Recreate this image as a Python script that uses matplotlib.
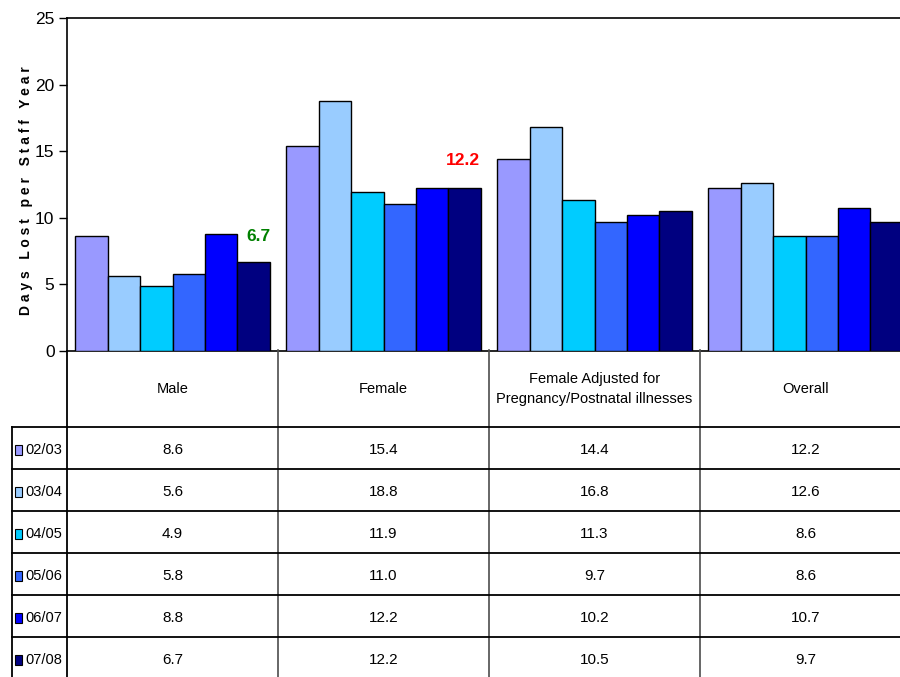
import numpy as np
import matplotlib.pyplot as plt

# data
groups = ['Male', 'Female', 'Female Adjusted for\nPregnancy/Postnatal illnesses', 'Overall']
years = ['02/03', '03/04', '04/05', '05/06', '06/07', '07/08']
v0203 = [8.6, 15.4, 14.4, 12.2]
v0304 = [5.6, 18.8, 16.8, 12.6]
v0405 = [4.9, 11.9, 11.3, 8.6]
v0506 = [5.8, 11.0, 9.7, 8.6]
v0607 = [8.8, 12.2, 10.2, 10.7]
v0708 = [6.7, 12.2, 10.5, 9.7]
series = [v0203, v0304, v0405, v0506, v0607, v0708]
colors = ['#9999FF', '#99CCFF', '#00CCFF', '#3366FF', '#0000FF', '#000080']

plt.rcParams['font.family'] = ['Liberation Sans', 'DejaVu Sans']

W, H = 900, 677
fig = plt.figure(figsize=(9, 6.77), dpi=100)

# plot area in pixel terms
x0, x1 = 67, 911
ytop, ybot = 18, 351
ax = fig.add_axes([x0 / W, 1 - ybot / H, (x1 - x0) / W, (ybot - ytop) / H])

bw = 0.154
x = np.arange(len(groups))
for i, (vals, c) in enumerate(zip(series, colors)):
    ax.bar(x + (i - 2.5) * bw, vals, bw, color=c, edgecolor='black', linewidth=1, label=years[i], zorder=3)

ax.set_xlim(-0.5, len(groups) - 0.5)
ax.set_ylim(0, 25)
ax.set_yticks(np.arange(0, 26, 5))
ax.set_xticks([])
ax.tick_params(axis='y', direction='out', length=6, width=1, pad=3, labelsize=12.5)
ax.spines['right'].set_visible(False)
for s in ax.spines.values():
    s.set_linewidth(1.2)
ax.set_ylabel('D a y s   L o s t   p e r   S t a f f   Y e a r', fontsize=10, fontweight='bold')
ax.yaxis.set_label_coords(-(x0 - 33) / (x1 - x0), (ybot - 191) / (ybot - ytop))

# highlighted values
ax.text(x[0] + 2.5 * bw + 0.02, v0708[0] + 1.9, '6.7', color='#008000', fontweight='bold',
        fontsize=12.5, ha='center', va='center')
ax.text(x[1] + 2.5 * bw - 0.01, v0708[1] + 2.1, '12.2', color='#FF0000', fontweight='bold',
        fontsize=12.5, ha='center', va='center')

# data table below the chart
tab_bot = 679
tx = fig.add_axes([0, 1 - tab_bot / H, 1, (tab_bot - ybot) / H])
tx.set_xlim(0, W)
tx.set_ylim(tab_bot, ybot)
tx.axis('off')

col_edges = [x0 + k * (x1 - x0) / len(groups) for k in range(len(groups) + 1)]
head_bot = 427
row_h = 42

# vertical lines
tx.plot([x0, x0], [ybot, tab_bot], color='black', lw=1.3, clip_on=False)
for ce in col_edges[1:-1]:
    tx.plot([ce, ce], [ybot - 1, tab_bot], color='0.3', lw=1.2, clip_on=False)
tx.plot([12, 12], [head_bot, tab_bot], color='black', lw=1.3, clip_on=False)
# horizontal lines
for r in range(len(years) + 1):
    yy = head_bot + r * row_h
    tx.plot([12, x1], [yy, yy], color='black', lw=1.3, clip_on=False)

for j, g in enumerate(groups):
    cx = (col_edges[j] + col_edges[j + 1]) / 2
    tx.text(cx, (ybot + head_bot) / 2, g, ha='center', va='center', fontsize=10.5, linespacing=1.6)
    for r, vals in enumerate(series):
        cy = head_bot + (r + 0.5) * row_h
        tx.text(cx, cy + 2, f'{vals[j]:.1f}', ha='center', va='center', fontsize=11)

for r, (yr, c) in enumerate(zip(years, colors)):
    cy = head_bot + (r + 0.5) * row_h + 2
    tx.add_patch(plt.Rectangle((15, cy - 5), 7, 10, facecolor=c, edgecolor='black', lw=0.8))
    tx.text(25, cy, yr, ha='left', va='center', fontsize=10.5)

fig.savefig('out.png', dpi=100)
